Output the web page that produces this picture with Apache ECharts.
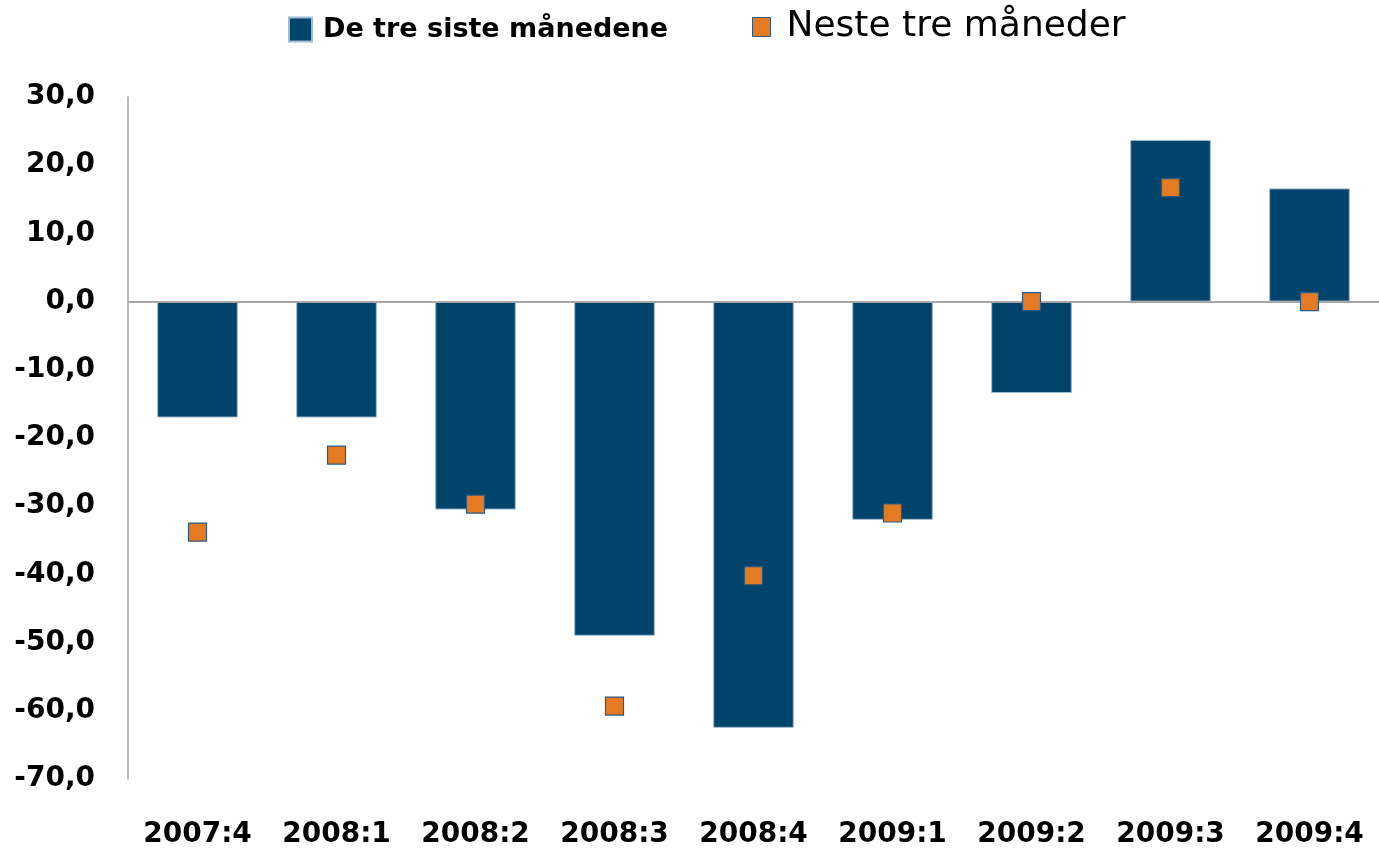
<!DOCTYPE html>
<html>
<head>
<meta charset="utf-8">
<script src="https://cdn.jsdelivr.net/npm/echarts@6/dist/echarts.min.js"></script>
<style>
  html, body { margin: 0; padding: 0; background: #fff; }
  #chart { width: 1379px; height: 856px; }
</style>
</head>
<body>
<div id="chart"></div>
<script>
// Quarters on the category axis
const quarters = ['2007:4', '2008:1', '2008:2', '2008:3', '2008:4', '2009:1', '2009:2', '2009:3', '2009:4'];
// Net balance, the last three months (bars)
const lastThree = [-17.0, -17.0, -30.5, -49.0, -62.5, -32.0, -13.4, 23.7, 16.6];
// Net balance, expected next three months (markers)
const nextThree = [-33.8, -22.5, -29.7, -59.3, -40.2, -31.0, 0.0, 16.7, 0.0];

const NAME_LAST = 'De tre siste månedene';
const NAME_NEXT = 'Neste tre måneder';
const FONT = '"DejaVu Sans", sans-serif';

const chart = echarts.init(document.getElementById('chart'), null, { renderer: 'canvas' });

chart.setOption({
  animation: false,
  backgroundColor: '#ffffff',
  legend: [
    {
      data: [NAME_LAST],
      left: 283, top: 11,
      icon: 'rect', itemWidth: 23, itemHeight: 24, itemGap: 0,
      textStyle: { fontFamily: FONT, fontWeight: 'bold', fontSize: 27, color: '#000', padding: [0, 0, 0, 6] }
    },
    {
      data: [NAME_NEXT],
      left: 747, top: 4,
      icon: 'rect', itemWidth: 18, itemHeight: 19, itemGap: 0,
      itemStyle: { borderColor: '#2a5a86', borderWidth: 1 },
      textStyle: { fontFamily: FONT, fontSize: 36, color: '#000', padding: [0, 0, 0, 11] }
    }
  ],
  grid: { left: 128, right: -9, top: 97, bottom: 77, containLabel: false },
  xAxis: {
    type: 'category',
    data: quarters,
    axisLine: { show: false },
    axisTick: { show: false },
    axisLabel: { interval: 0, margin: 42, fontFamily: FONT, fontWeight: 'bold', fontSize: 28, color: '#000' }
  },
  yAxis: {
    type: 'value',
    min: -70, max: 30, interval: 10,
    splitLine: { show: false },
    axisTick: { show: false },
    axisLine: { show: true, lineStyle: { color: '#a6a6a6', width: 1.5 } },
    axisLabel: {
      margin: 33, fontFamily: FONT, fontWeight: 'bold', fontSize: 28, color: '#000',
      formatter: v => v.toFixed(1).replace('.', ',')
    }
  },
  series: [
    {
      name: NAME_LAST,
      type: 'bar',
      data: lastThree,
      barWidth: '58%',
      itemStyle: { color: '#00446b', borderColor: '#9fbad2', borderWidth: 1 },
      markLine: {
        silent: true,
        symbol: 'none',
        label: { show: false },
        lineStyle: { color: '#a6a6a6', width: 2, type: 'solid' },
        data: [{ yAxis: 0 }]
      },
      z: 2
    },
    {
      name: NAME_NEXT,
      type: 'scatter',
      data: nextThree,
      symbol: 'rect',
      symbolSize: 18,
      itemStyle: { color: '#e47b22', borderColor: '#2a5a86', borderWidth: 1.2, opacity: 1 },
      z: 5
    }
  ]
});
</script>
</body>
</html>
